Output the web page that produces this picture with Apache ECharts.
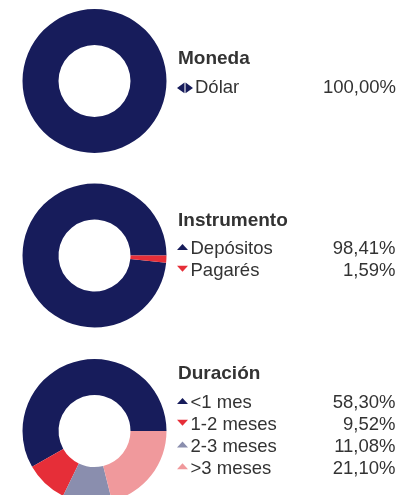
<!DOCTYPE html>
<html>
<head>
<meta charset="utf-8">
<script src="https://cdn.jsdelivr.net/npm/echarts@6/dist/echarts.min.js"></script>
<style>
  html, body { margin: 0; padding: 0; background: #fff; }
  #chart { width: 411px; height: 495px; }
</style>
</head>
<body>
<div id="chart"></div>
<script>
// datos
const monedaNames = ["Dólar"];
const monedaValues = [100.0];
const instrumentoNames = ["Depósitos", "Pagarés"];
const instrumentoValues = [98.41, 1.59];
const duracionNames = ["<1 mes", "1-2 meses", "2-3 meses", ">3 meses"];
const duracionValues = [58.30, 9.52, 11.08, 21.10];

const navy = "#171c5b";
const red = "#e62e38";
const grey = "#8a8eae";
const pink = "#f0999c";

// triangles drawn in the upper part of the symbol box (trailing M pads the box)
const upIcon = "path://M5.5,0L11,6L0,6Z M5.5,11";
const downIcon = "path://M0,0L11,0L5.5,6Z M5.5,11";
const bothIcon = "path://M0,5L7,0L7,10Z M8,0L15,5L8,10Z";

const font = "Liberation Sans, Arial, sans-serif";

const chart = echarts.init(document.getElementById("chart"));

function fmt(v) {
  return v.toFixed(2).replace(".", ",") + "%";
}

function makeData(names, values, colors) {
  return names.map((n, i) => ({ name: n, value: values[i], itemStyle: { color: colors[i] } }));
}

function makeLegend(names, values, icons, top, iw, ih) {
  const lookup = {};
  names.forEach((n, i) => { lookup[n] = fmt(values[i]); });
  return {
    orient: "vertical",
    left: 177,
    top: top,
    padding: 0,
    itemGap: 0,
    itemWidth: iw,
    itemHeight: ih,
    selectedMode: false,
    data: names.map((n, i) => ({ name: n, icon: icons[i] })),
    formatter: (name) => "{n|" + name + "}{v|" + lookup[name] + "}",
    textStyle: {
      fontFamily: font,
      fontSize: 18.5,
      lineHeight: 21.75,
      color: "#333",
      padding: [0, 0, 0, -3],
      rich: {
        n: { fontFamily: font, fontSize: 18.5, color: "#333", width: 123 - iw, lineHeight: 21.75, height: 21.75 },
        v: { fontFamily: font, fontSize: 18.5, color: "#333", width: 94, align: "right", lineHeight: 21.75, height: 21.75 }
      }
    }
  };
}

function makePie(names, values, colors, cy) {
  return {
    type: "pie",
    center: [94.5, cy],
    radius: [36, 72],
    startAngle: 0,
    clockwise: false,
    silent: true,
    label: { show: false },
    labelLine: { show: false },
    emphasis: { disabled: true },
    data: makeData(names, values, colors)
  };
}

const titleStyle = { fontFamily: font, fontSize: 19, fontWeight: "bold", color: "#333" };

chart.setOption({
  animation: false,
  title: [
    { text: "Moneda", left: 178, top: 49.5, padding: 0, textStyle: titleStyle },
    { text: "Instrumento", left: 178, top: 211.5, padding: 0, textStyle: titleStyle },
    { text: "Duración", left: 178, top: 364.5, padding: 0, textStyle: titleStyle }
  ],
  legend: [
    makeLegend(monedaNames, monedaValues, [bothIcon], 77, 16, 11),
    makeLegend(instrumentoNames, instrumentoValues, [upIcon, downIcon], 238.5, 12, 11),
    makeLegend(duracionNames, duracionValues, [upIcon, downIcon, upIcon, upIcon], 392.5, 12, 11)
  ],
  series: [
    makePie(monedaNames, monedaValues, [navy], 81),
    makePie(instrumentoNames, instrumentoValues, [navy, red], 255.5),
    makePie(duracionNames, duracionValues, [navy, red, grey, pink], 431)
  ]
});
</script>
</body>
</html>
